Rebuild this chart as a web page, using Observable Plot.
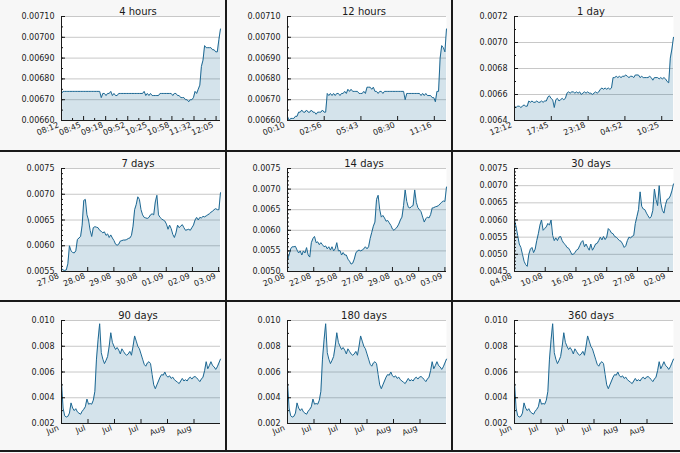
<!DOCTYPE html>
<html><head><meta charset="utf-8">
<script src="https://cdn.jsdelivr.net/npm/d3@7"></script>
<script src="https://cdn.jsdelivr.net/npm/@observablehq/plot@0.6"></script>
<style>
html,body{margin:0;padding:0;background:#f7f7f7;}
#grid{display:grid;grid-template-columns:225px 224px 227px;grid-template-rows:150px 148px 148px;gap:2px;background:#1a1a1a;width:680px;height:450px;border-bottom:2px solid #1a1a1a;}
.panel{background:#f7f7f7;overflow:hidden;}
.panel svg{display:block;}
</style></head><body><div id="grid"></div>
<script>
// ---- data ----
const titles = ["4 hours","12 hours","1 day","7 days","14 days","30 days","90 days","180 days","360 days"];

const v4h = [.00673,
.00674,.00674,.00674,.00674,.00674,.00674,.00674,.00674,.00674,.00674,.00674,.00674,.00674,.00674,.00674,.00674,.00674,.00674,.00674,.00674,.00674,.00674,.00674,.00674,
.00671,.00673,.00673,.00672,.00673,.00673,.00674,.00672,.00673,.00672,.00672,
.00673,.00673,.00673,.00673,.00673,.00673,.00673,.00673,.00673,.00673,.00673,.00673,.00673,.00673,.00673,.00673,
.00674,.00672,.00673,.00672,.00673,.00672,.00672,.00672,.00672,.00672,
.00673,.00673,.00673,.00673,.00673,.00673,.00673,.00673,
.00672,.00673,.00673,.00672,.00672,.00671,.00671,.00671,.00670,.00670,.00669,.00670,.00670,.00671,.00674,.00673,.00675,.00677,.00686,.00689,.00696,.00695,.00695,.00695,.00695,.00694,.00694,.00693,.00693,.00699,.00704];

const v12h = [.00662,.00660,.00661,.00661,.00661,.00662,.00662,.00664,.00664,.00665,.00664,.00664,.00665,.00664,.00664,.00665,.00664,.00664,.00663,.00664,.00664,.00664,.00665,.00664,.00664,
.00673,.00672,.00673,.00672,.00673,.00672,.00673,.00673,.00672,.00673,.00673,.00674,.00673,.00675,.00674,.00675,.00674,.00674,.00674,.00674,.00673,.00673,.00673,.00674,.00673,.00676,.00676,.00676,.00675,.00676,.00674,.00674,.00673,.00674,.00674,.00673,.00674,
.00674,.00674,.00674,.00674,.00674,.00674,.00674,.00674,.00674,.00674,.00674,.00674,
.00670,.00673,.00673,.00673,.00673,.00673,.00673,.00673,.00673,.00673,
.00672,.00673,.00672,.00673,.00672,.00672,.00672,.00671,.00671,.00669,.00674,.00674,.00690,.00696,.00695,.00693,.00704];

const v1d = [.00651,.00650,.00651,.00651,.00650,.00651,.00652,.00651,.00651,.00655,
.00654,.00655,.00654,.00654,.00655,.00654,.00654,.00655,.00654,.00655,
.00655,.00658,.00659,.00657,.00656,.00650,.00656,.00657,.00655,.00656,
.00657,.00656,.00657,.00661,.00662,.00661,.00662,.00662,.00661,.00662,
.00661,.00662,.00660,.00661,.00662,.00661,.00662,.00661,.00661,.00660,
.00661,.00662,.00661,.00662,.00664,.00665,.00664,.00665,.00664,.00665,
.00664,.00665,.00673,.00673,.00674,.00673,.00674,.00673,.00674,.00674,
.00675,.00674,.00673,.00674,.00674,.00673,.00675,.00675,.00675,.00673,
.00674,.00673,.00673,.00673,.00673,.00674,.00673,.00671,.00673,.00673,
.00673,.00672,.00673,.00672,.00673,.00672,.00670,.00669,.00688,.00695,.00704];

const v7d = [.00556,.00553,.00552,.00553,.00565,.00600,.00590,.00587,.00586,.00590,
.00612,.00615,.00618,.00640,.00688,.00690,.00660,.00650,.00630,.00618,
.00635,.00637,.00636,.00635,.00630,.00628,.00625,.00627,.00620,.00623,
.00616,.00621,.00615,.00610,.00603,.00601,.00603,.00609,.00610,.00611,
.00611,.00612,.00614,.00615,.00620,.00638,.00670,.00680,.00695,.00690,
.00670,.00660,.00655,.00654,.00653,.00655,.00660,.00662,.00660,.00685,
.00698,.00660,.00655,.00652,.00650,.00648,.00642,.00632,.00640,.00633,
.00622,.00616,.00625,.00640,.00635,.00638,.00641,.00635,.00630,.00631,
.00632,.00630,.00635,.00640,.00650,.00655,.00650,.00655,.00654,.00657,
.00656,.00658,.00660,.00662,.00665,.00667,.00670,.00672,.00670,.00670,.00703];

const v14d = [.00528,.00540,.00555,.00560,.00560,.00561,.00552,.00545,.00550,.00540,
.00550,.00545,.00558,.00540,.00535,.00570,.00580,.00585,.00570,.00572,
.00565,.00570,.00565,.00560,.00562,.00555,.00560,.00552,.00560,.00550,
.00555,.00570,.00550,.00551,.00540,.00546,.00540,.00540,.00530,.00525,
.00518,.00520,.00530,.00545,.00550,.00552,.00550,.00552,.00555,.00560,
.00555,.00560,.00580,.00595,.00610,.00620,.00675,.00685,.00650,.00632,
.00636,.00630,.00622,.00624,.00618,.00612,.00603,.00600,.00604,.00608,
.00615,.00625,.00632,.00660,.00698,.00670,.00656,.00654,.00658,.00660,
.00698,.00668,.00655,.00650,.00645,.00632,.00620,.00628,.00632,.00630,
.00638,.00654,.00655,.00657,.00658,.00660,.00664,.00668,.00671,.00670,.00705];

const v30d = [.00600,.00580,.00555,.00530,.00520,.00500,.00480,.00470,.00465,.00500,
.00515,.00520,.00505,.00515,.00540,.00560,.00585,.00600,.00570,.00575,
.00580,.00590,.00585,.00600,.00555,.00540,.00548,.00540,.00550,.00552,
.00540,.00532,.00528,.00520,.00518,.00510,.00500,.00500,.00505,.00512,
.00515,.00525,.00535,.00540,.00522,.00530,.00520,.00512,.00530,.00512,
.00520,.00530,.00532,.00540,.00550,.00542,.00552,.00543,.00550,.00575,
.00570,.00562,.00560,.00552,.00550,.00545,.00540,.00538,.00530,.00520,
.00525,.00540,.00550,.00548,.00552,.00555,.00590,.00610,.00630,.00682,
.00640,.00632,.00630,.00620,.00612,.00605,.00610,.00628,.00690,.00660,
.00642,.00700,.00650,.00628,.00620,.00645,.00660,.00662,.00670,.00685,.00705];

const vLong = [.00520,.00320,.00260,.00250,.00255,.00280,.00360,.00320,.00300,.00315,
.00290,.00280,.00272,.00295,.00310,.00330,.00390,.00350,.00355,.00350,
.00380,.00450,.00700,.00850,.00975,.00750,.00700,.00665,.00690,.00720,
.00800,.00905,.00830,.00800,.00775,.00790,.00770,.00740,.00780,.00760,
.00740,.00730,.00740,.00760,.00730,.00800,.00880,.00840,.00800,.00780,
.00740,.00700,.00660,.00645,.00670,.00680,.00665,.00580,.00500,.00470,
.00500,.00530,.00560,.00580,.00575,.00600,.00570,.00560,.00570,.00550,
.00560,.00540,.00530,.00520,.00510,.00530,.00550,.00530,.00540,.00530,
.00550,.00560,.00545,.00560,.00565,.00555,.00540,.00525,.00545,.00560,
.00610,.00680,.00625,.00650,.00680,.00650,.00640,.00620,.00640,.00670,.00700];

const l4h = ["08:12","08:45","09:18","09:52","10:25","10:58","11:32","12:05"];
const l12h = ["00:10","02:56","05:43","08:30","11:16"];
const l1d = ["12:12","17:45","23:18","04:52","10:25"];
const l7d = ["27.08","28.08","29.08","30.08","01.09","02.09","03.09"];
const l14d = ["20.08","22.08","25.08","27.08","29.08","01.09","03.09"];
const l30d = ["04.08","10.08","16.08","21.08","27.08","02.09"];
const lLong = ["Jun","Jul","Jul","Jul","Aug","Aug"];

const y4h = [0.0066,0.0067,0.0068,0.0069,0.0070,0.0071];
const y1d = [0.0064,0.0066,0.0068,0.0070,0.0072];
const y7d = [0.0055,0.0060,0.0065,0.0070,0.0075];
const y14d = [0.0050,0.0055,0.0060,0.0065,0.0070,0.0075];
const y30d = [0.0045,0.0050,0.0055,0.0060,0.0065,0.0070,0.0075];
const yLong = [0.002,0.004,0.006,0.008,0.010];

// span of each window and spacing of its x ticks (minutes or days)
const spans = [240, 722, 1440, 7, 14, 30, 90, 90, 90];
const xSteps = [100/3, 500/3, 1000/3, 1.153, 2.31, 5.8, 15, 15, 15];

const panels = [
  {values: v4h, labels: l4h, yTicks: y4h, yMinor: 0.00005, dec: 5, xMinor: true},
  {values: v12h, labels: l12h, yTicks: y4h, yMinor: 0.00005, dec: 5},
  {values: v1d, labels: l1d, yTicks: y1d, yMinor: 0.0001, dec: 4},
  {values: v7d, labels: l7d, yTicks: y7d, yMinor: 0.0001, dec: 4},
  {values: v14d, labels: l14d, yTicks: y14d, yMinor: 0.0001, dec: 4},
  {values: v30d, labels: l30d, yTicks: y30d, yMinor: 0.0001, dec: 4},
  {values: vLong, labels: lLong, yTicks: yLong, yMinor: 0.001, dec: 3},
  {values: vLong, labels: lLong, yTicks: yLong, yMinor: 0.001, dec: 3},
  {values: vLong, labels: lLong, yTicks: yLong, yMinor: 0.001, dec: 3}
].map((p, i) => ({...p, title: titles[i], span: spans[i], xStep: xSteps[i]}));

const lineColor = "#1d6893";
const ink = "#1a1a1a";

function draw(p, col, row) {
  const W = [225, 224, 227][col], H = [150, 148, 148][row];
  const mt = [16, 16, 18][row], mb = H - [120, 119, 121][row];
  const ml = [61, 60, 61][col], mr = W - [220, 219, 220][col];
  const n = p.values.length;
  const data = p.values.map((v, i) => ({t: i * p.span / (n - 1), v}));
  const lo = p.yTicks[0], hi = p.yTicks[p.yTicks.length - 1];
  const xt = p.labels.map((_, k) => k * p.xStep);
  const xm = p.xMinor ? p.labels.map((_, k) => (k + 0.5) * p.xStep).filter(t => t <= p.span) : [];
  const ym = d3.range(0, Math.round((hi - lo) / p.yMinor) + 1).map(k => lo + k * p.yMinor);
  const fmt = d3.format(`.${p.dec}f`);
  const marks = [
    Plot.frame({fill: "white", stroke: "none"}),
    Plot.gridY(p.yTicks, {stroke: "#c8c8c8", strokeOpacity: 1}),
    Plot.areaY(data, {x: "t", y1: lo, y2: "v", fill: lineColor, fillOpacity: 0.19}),
    Plot.lineY(data, {x: "t", y: "v", stroke: lineColor, strokeWidth: 1}),
    Plot.ruleX([0], {stroke: ink}),
    Plot.ruleY([lo], {stroke: ink}),
    Plot.axisY({ticks: p.yTicks, tickSize: -4, text: null, stroke: ink}),
    Plot.axisY({ticks: ym, tickSize: -2, text: null, stroke: ink}),
    Plot.axisY({ticks: p.yTicks, tickSize: 0, tickPadding: 7, tickFormat: fmt, fill: ink}),
    Plot.axisX({ticks: xt, tickSize: -4, text: null, stroke: ink}),
    Plot.axisX({ticks: xt, tickSize: 0, tickPadding: 4, tickRotate: -22, dx: -3,
      tickFormat: d => p.labels[Math.round(d / p.xStep)], fill: ink}),
    Plot.text([p.title], {text: d => d, frameAnchor: "top", dy: -8.5, dx: -3, fontSize: 10, fill: ink})
  ];
  if (xm.length) marks.push(Plot.axisX({ticks: xm, tickSize: -2, text: null, stroke: ink}));
  return Plot.plot({
    width: W, height: H,
    marginTop: mt, marginBottom: mb, marginLeft: ml, marginRight: mr,
    style: {background: "transparent", fontFamily: "'DejaVu Sans', sans-serif", fontSize: "8px", color: ink, overflow: "visible"},
    x: {domain: [0, p.span], label: null, axis: null},
    y: {domain: [lo, hi], label: null, axis: null},
    marks
  });
}

const grid = document.getElementById("grid");
panels.forEach((p, i) => {
  const div = document.createElement("div");
  div.className = "panel";
  div.appendChild(draw(p, i % 3, Math.floor(i / 3)));
  grid.appendChild(div);
});
</script>
</body></html>
